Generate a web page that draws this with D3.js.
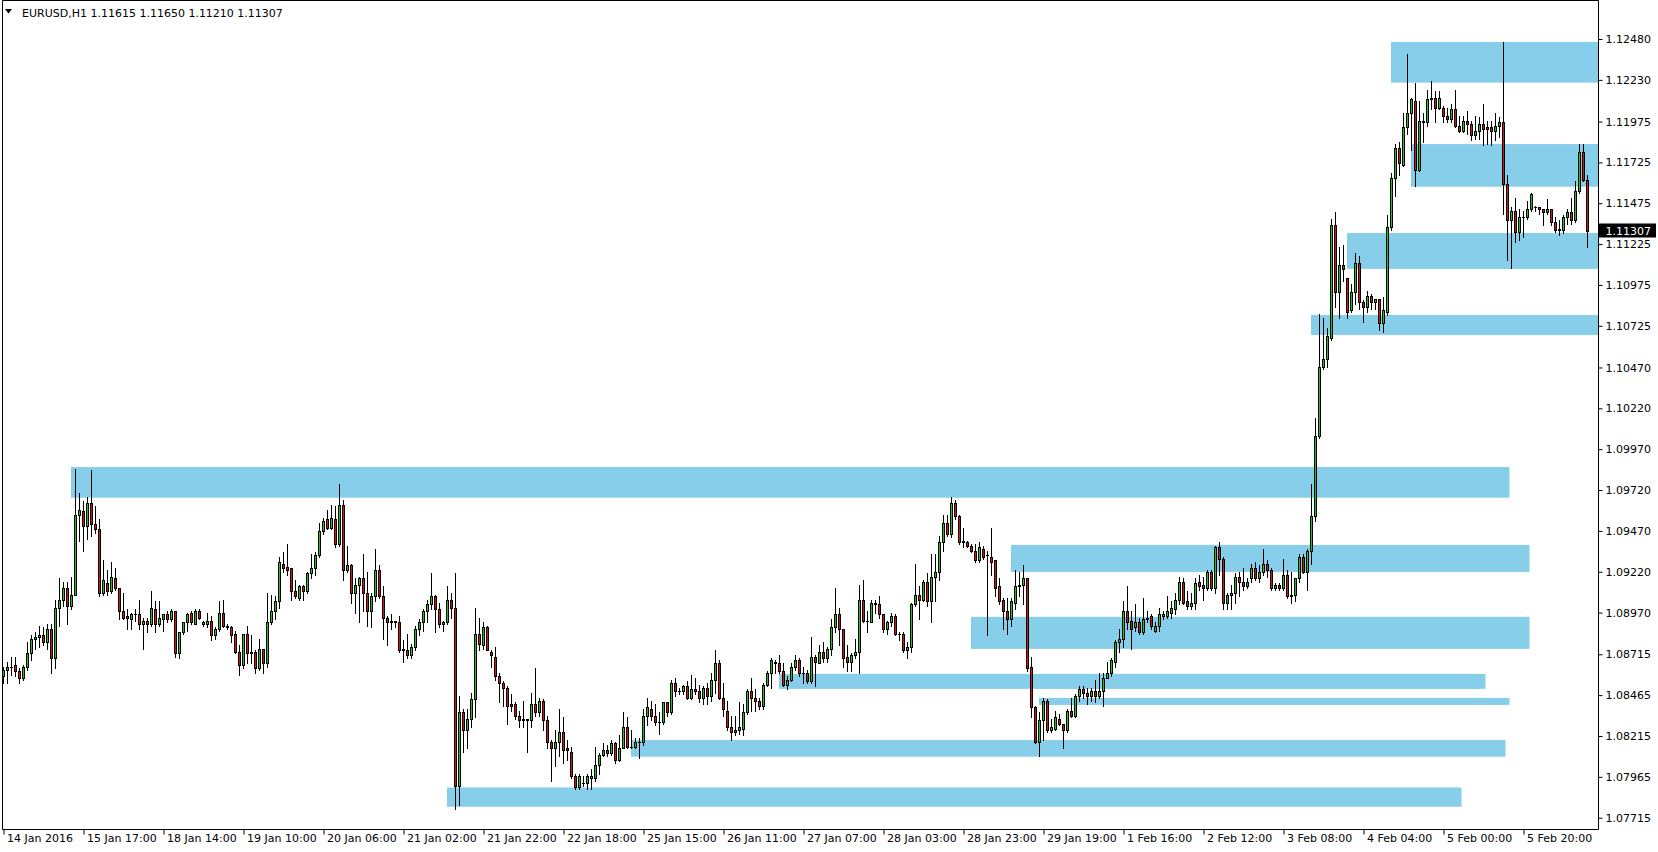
<!DOCTYPE html>
<html><head><meta charset="utf-8">
<script src="https://cdn.jsdelivr.net/npm/d3@7"></script>
<style>
body{margin:0;background:#fff;}
svg{display:block;}
text{font-family:"DejaVu Sans",sans-serif;font-size:11px;fill:#000;}
</style>
</head><body>
<svg id="c" width="1658" height="852"></svg>
<script>
const symbolLabel = "EURUSD,H1";
const lastOHLC = [1.11615, 1.11650, 1.11210, 1.11307];

const opens = [
1.0858,1.0862,1.0864,1.0865,1.0861,1.0857,1.0864,1.0872,1.0881,1.0882,
1.0883,1.0879,1.0887,1.0869,1.0900,1.0905,1.0912,1.0901,1.0908,1.0957,
1.0959,1.0950,1.0964,1.0951,1.0948,1.0909,1.0915,1.0910,1.0918,1.0912,
1.0898,1.0895,1.0893,1.0896,1.0896,1.0890,1.0892,1.0890,1.0899,1.0890,
1.0893,1.0896,1.0893,1.0898,1.0872,1.0885,1.0891,1.0897,1.0890,1.0898,
1.0890,1.0890,1.0892,1.0883,1.0887,1.0897,1.0889,1.0888,1.0884,1.0873,
1.0865,1.0884,1.0873,1.0873,1.0863,1.0875,1.0866,1.0891,1.0898,1.0904,
1.0927,1.0925,1.0924,1.0910,1.0906,1.0913,1.0910,1.0921,1.0924,1.0932,
1.0947,1.0954,1.0949,1.0954,1.0939,1.0963,1.0923,1.0926,1.0909,1.0914,
1.0918,1.0909,1.0898,1.0907,1.0923,1.0907,1.0894,1.0891,1.0892,1.0891,
1.0875,1.0874,1.0871,1.0876,1.0887,1.0891,1.0898,1.0902,1.0907,1.0899,
1.0890,1.0891,1.0905,1.0900,1.0791,1.0836,1.0825,1.0832,1.0844,1.0884,
1.0877,1.0888,1.0873,1.0870,1.0858,1.0854,1.0851,1.0841,1.0841,1.0834,
1.0831,1.0832,1.0831,1.0841,1.0836,1.0843,1.0831,1.0818,1.0814,1.0818,
1.0824,1.0814,1.0812,1.0797,1.0790,1.0793,1.0793,1.0796,1.0796,1.0804,
1.0810,1.0813,1.0811,1.0817,1.0807,1.0814,1.0827,1.0815,1.0815,1.0818,
1.0818,1.0834,1.0838,1.0834,1.0830,1.0830,1.0842,1.0836,1.0854,1.0849,
1.0849,1.0852,1.0845,1.0850,1.0849,1.0845,1.0851,1.0846,1.0856,1.0866,
1.0845,1.0837,1.0827,1.0824,1.0825,1.0826,1.0836,1.0849,1.0845,1.0843,
1.0840,1.0853,1.0860,1.0867,1.0866,1.0861,1.0853,1.0856,1.0864,1.0868,
1.0860,1.0860,1.0855,1.0870,1.0866,1.0873,1.0869,1.0875,1.0888,1.0896,
1.0887,1.0870,1.0867,1.0871,1.0873,1.0905,1.0892,1.0891,1.0902,1.0902,
1.0896,1.0887,1.0891,1.0895,1.0884,1.0884,1.0874,1.0876,1.0902,1.0908,
1.0905,1.0916,1.0904,1.0919,1.0922,1.0940,1.0952,1.0945,1.0964,1.0956,
1.0941,1.0940,1.0938,1.0935,1.0929,1.0936,1.0932,1.0931,1.0929,1.0913,
1.0905,1.0898,1.0893,1.0903,1.0913,1.0914,1.0918,1.0864,1.0839,1.0818,
1.0831,1.0843,1.0825,1.0826,1.0832,1.0829,1.0825,1.0837,1.0834,1.0846,
1.0850,1.0848,1.0846,1.0849,1.0846,1.0849,1.0857,1.0860,1.0867,1.0879,
1.0881,1.0898,1.0892,1.0888,1.0891,1.0885,1.0893,1.0895,1.0886,1.0889,
1.0895,1.0895,1.0897,1.0899,1.0905,1.0916,1.0904,1.0901,1.0903,1.0916,
1.0914,1.0912,1.0922,1.0912,1.0937,1.0930,1.0903,1.0908,1.0909,1.0919,
1.0916,1.0913,1.0918,1.0924,1.0918,1.0922,1.0927,1.0923,1.0912,1.0914,
1.0912,1.0920,1.0908,1.0908,1.0918,1.0931,1.0922,1.0935,1.0956,1.1005,
1.1047,1.1052,1.1065,1.1134,1.1093,1.1110,1.1102,1.1082,1.1093,1.1111,
1.1087,1.1084,1.1091,1.1087,1.1089,1.1074,1.1081,1.1133,1.1163,1.1181,
1.1171,1.1194,1.1203,1.1210,1.1168,1.1198,1.1197,1.1211,1.1212,1.1206,
1.1206,1.1201,1.1199,1.1205,1.1195,1.1192,1.1198,1.1196,1.1189,1.1192,
1.1196,1.1194,1.1194,1.1192,1.1195,1.1197,1.1159,1.1137,1.1143,1.1130,
1.1139,1.1139,1.1144,1.1145,1.1145,1.1144,1.1142,1.1144,1.1136,1.1132,
1.1131,1.1139,1.1142,1.1137,1.1155,1.1179,1.11615];

const highs = [
1.0864,1.0867,1.0870,1.0870,1.0863,1.0865,1.0879,1.0883,1.0885,1.0889,
1.0888,1.0890,1.0890,1.0905,1.0918,1.0916,1.0916,1.0919,1.0985,1.0970,
1.0965,1.0968,1.0984,1.0962,1.0954,1.0929,1.0923,1.0928,1.0924,1.0912,
1.0909,1.0899,1.0897,1.0899,1.0905,1.0894,1.0894,1.0910,1.0904,1.0904,
1.0896,1.0898,1.0899,1.0898,1.0885,1.0891,1.0897,1.0898,1.0899,1.0899,
1.0892,1.0897,1.0895,1.0888,1.0904,1.0905,1.0890,1.0889,1.0886,1.0877,
1.0884,1.0889,1.0883,1.0874,1.0881,1.0875,1.0909,1.0908,1.0907,1.0931,
1.0934,1.0939,1.0924,1.0917,1.0914,1.0914,1.0922,1.0933,1.0934,1.0952,
1.0955,1.0960,1.0963,1.0962,1.0976,1.0966,1.0938,1.0927,1.0918,1.0919,
1.0933,1.0922,1.0909,1.0936,1.0926,1.0913,1.0895,1.0896,1.0892,1.0895,
1.0880,1.0884,1.0878,1.0889,1.0893,1.0899,1.0905,1.0921,1.0908,1.0903,
1.0892,1.0913,1.0909,1.0921,1.0846,1.0838,1.0838,1.0848,1.0900,1.0894,
1.0891,1.0889,1.0874,1.0876,1.0860,1.0855,1.0852,1.0847,1.0842,1.0837,
1.0843,1.0832,1.0848,1.0863,1.0845,1.0844,1.0834,1.0819,1.0825,1.0838,
1.0833,1.0819,1.0815,1.0798,1.0798,1.0797,1.0798,1.0801,1.0815,1.0811,
1.0817,1.0816,1.0819,1.0818,1.0822,1.0836,1.0833,1.0825,1.0820,1.0820,
1.0838,1.0845,1.0843,1.0841,1.0836,1.0842,1.0842,1.0856,1.0857,1.0851,
1.0853,1.0855,1.0859,1.0857,1.0853,1.0852,1.0854,1.0860,1.0874,1.0868,
1.0854,1.0843,1.0834,1.0834,1.0842,1.0841,1.0850,1.0857,1.0850,1.0845,
1.0854,1.0861,1.0869,1.0868,1.0871,1.0866,1.0858,1.0866,1.0871,1.0869,
1.0864,1.0862,1.0882,1.0871,1.0877,1.0879,1.0876,1.0893,1.0912,1.0900,
1.0887,1.0877,1.0872,1.0881,1.0914,1.0917,1.0898,1.0905,1.0905,1.0907,
1.0896,1.0892,1.0897,1.0896,1.0885,1.0885,1.0879,1.0903,1.0927,1.0913,
1.0917,1.0921,1.0933,1.0933,1.0944,1.0957,1.0957,1.0968,1.0966,1.0957,
1.0949,1.0941,1.0939,1.0939,1.0940,1.0938,1.0935,1.0949,1.0929,1.0918,
1.0906,1.0906,1.0906,1.0923,1.0922,1.0926,1.0918,1.0870,1.0840,1.0836,
1.0845,1.0844,1.0832,1.0837,1.0835,1.0829,1.0838,1.0845,1.0847,1.0852,
1.0852,1.0851,1.0851,1.0856,1.0860,1.0860,1.0867,1.0869,1.0880,1.0887,
1.0904,1.0913,1.0898,1.0902,1.0894,1.0906,1.0898,1.0896,1.0891,1.0900,
1.0898,1.0907,1.0904,1.0909,1.0919,1.0918,1.0910,1.0909,1.0918,1.0920,
1.0919,1.0923,1.0923,1.0938,1.0940,1.0931,1.0909,1.0914,1.0921,1.0922,
1.0924,1.0918,1.0927,1.0928,1.0926,1.0936,1.0929,1.0924,1.0915,1.0915,
1.0930,1.0923,1.0922,1.0918,1.0933,1.0933,1.0936,1.0976,1.1016,1.1080,
1.1077,1.1071,1.1138,1.1142,1.1121,1.1122,1.1102,1.1098,1.1117,1.1115,
1.1088,1.1094,1.1092,1.1089,1.1089,1.1090,1.1140,1.1166,1.1184,1.1185,
1.1203,1.1239,1.1212,1.1221,1.1210,1.1203,1.1217,1.1222,1.1216,1.1216,
1.1207,1.1206,1.1208,1.1217,1.1201,1.1201,1.1204,1.1198,1.1201,1.1200,
1.1208,1.1198,1.1198,1.1203,1.1200,1.1246,1.1165,1.1145,1.1151,1.1144,
1.1143,1.1149,1.1154,1.1146,1.1145,1.1144,1.1150,1.1144,1.1139,1.1137,
1.1140,1.1144,1.1151,1.1161,1.1184,1.1184,1.11650];

const lows = [
1.0854,1.0854,1.0859,1.0858,1.0854,1.0856,1.0862,1.0868,1.0875,1.0876,
1.0877,1.0875,1.0860,1.0863,1.0889,1.0901,1.0890,1.0899,1.0908,1.0941,
1.0935,1.0942,1.0944,1.0946,1.0907,1.0908,1.0908,1.0909,1.0911,1.0893,
1.0893,1.0887,1.0887,1.0892,1.0887,1.0875,1.0885,1.0889,1.0885,1.0889,
1.0886,1.0891,1.0892,1.0870,1.0869,1.0884,1.0886,1.0890,1.0890,1.0893,
1.0889,1.0888,1.0880,1.0881,1.0886,1.0888,1.0887,1.0879,1.0872,1.0859,
1.0863,1.0866,1.0866,1.0860,1.0862,1.0860,1.0864,1.0890,1.0893,1.0900,
1.0922,1.0920,1.0905,1.0906,1.0905,1.0905,1.0909,1.0918,1.0920,1.0931,
1.0945,1.0948,1.0948,1.0937,1.0938,1.0917,1.0922,1.0903,1.0897,1.0891,
1.0898,1.0889,1.0888,1.0904,1.0906,1.0881,1.0877,1.0887,1.0888,1.0873,
1.0867,1.0869,1.0869,1.0874,1.0883,1.0886,1.0891,1.0899,1.0885,1.0888,
1.0886,1.0890,1.0894,1.0777,1.0779,1.0812,1.0814,1.0827,1.0833,1.0874,
1.0875,1.0874,1.0864,1.0856,1.0842,1.0840,1.0829,1.0837,1.0832,1.0827,
1.0827,1.0812,1.0827,1.0834,1.0834,1.0825,1.0814,1.0794,1.0803,1.0809,
1.0805,1.0807,1.0796,1.0789,1.0789,1.0791,1.0789,1.0789,1.0794,1.0798,
1.0809,1.0809,1.0810,1.0805,1.0806,1.0814,1.0814,1.0814,1.0814,1.0808,
1.0816,1.0828,1.0831,1.0828,1.0823,1.0829,1.0834,1.0835,1.0846,1.0847,
1.0847,1.0844,1.0844,1.0847,1.0842,1.0841,1.0841,1.0843,1.0848,1.0844,
1.0834,1.0825,1.0819,1.0822,1.0823,1.0822,1.0835,1.0837,1.0837,1.0838,
1.0838,1.0852,1.0851,1.0860,1.0860,1.0852,1.0850,1.0855,1.0862,1.0858,
1.0854,1.0854,1.0854,1.0852,1.0866,1.0867,1.0867,1.0871,1.0885,1.0877,
1.0864,1.0861,1.0861,1.0869,1.0860,1.0891,1.0885,1.0891,1.0897,1.0894,
1.0885,1.0884,1.0889,1.0883,1.0880,1.0873,1.0869,1.0873,1.0901,1.0893,
1.0904,1.0901,1.0891,1.0904,1.0917,1.0935,1.0944,1.0943,1.0954,1.0939,
1.0937,1.0937,1.0934,1.0928,1.0928,1.0930,1.0883,1.0920,1.0907,1.0902,
1.0887,1.0884,1.0889,1.0899,1.0907,1.0902,1.0861,1.0833,1.0817,1.0809,
1.0819,1.0824,1.0824,1.0825,1.0828,1.0814,1.0824,1.0833,1.0833,1.0843,
1.0845,1.0841,1.0843,1.0842,1.0845,1.0840,1.0857,1.0858,1.0864,1.0873,
1.0876,1.0887,1.0875,1.0886,1.0884,1.0884,1.0891,1.0887,1.0885,1.0886,
1.0893,1.0894,1.0894,1.0896,1.0902,1.0902,1.0899,1.0899,1.0899,1.0911,
1.0905,1.0911,1.0911,1.0909,1.0920,1.0899,1.0899,1.0899,1.0903,1.0907,
1.0911,1.0912,1.0916,1.0917,1.0916,1.0920,1.0919,1.0911,1.0911,1.0911,
1.0911,1.0906,1.0903,1.0904,1.0916,1.0921,1.0911,1.0927,1.0953,1.1004,
1.1046,1.1047,1.1064,1.1084,1.1077,1.1100,1.1077,1.1081,1.1086,1.1083,
1.1075,1.1081,1.1083,1.1083,1.1070,1.1069,1.1079,1.1131,1.1152,1.1165,
1.1170,1.1190,1.1180,1.1158,1.1167,1.1185,1.1195,1.1205,1.1197,1.1205,
1.1197,1.1197,1.1197,1.1194,1.1191,1.1191,1.1190,1.1186,1.1187,1.1187,
1.1183,1.1184,1.1183,1.1186,1.1188,1.1141,1.1113,1.1108,1.1124,1.1125,
1.1127,1.1138,1.1143,1.1143,1.1141,1.1134,1.1141,1.1134,1.1130,1.1128,
1.1129,1.1135,1.1135,1.1136,1.1154,1.1161,1.11210];

const closes = [
1.0862,1.0864,1.0864,1.0861,1.0857,1.0864,1.0872,1.0881,1.0882,1.0883,
1.0879,1.0887,1.0869,1.0900,1.0905,1.0912,1.0901,1.0908,1.0957,1.0960,
1.0950,1.0964,1.0951,1.0948,1.0909,1.0917,1.0910,1.0919,1.0912,1.0898,
1.0894,1.0894,1.0896,1.0896,1.0890,1.0892,1.0890,1.0900,1.0890,1.0894,
1.0896,1.0893,1.0898,1.0872,1.0885,1.0891,1.0896,1.0891,1.0898,1.0894,
1.0891,1.0892,1.0883,1.0887,1.0897,1.0889,1.0888,1.0883,1.0873,1.0865,
1.0884,1.0872,1.0872,1.0863,1.0875,1.0866,1.0891,1.0898,1.0904,1.0928,
1.0924,1.0923,1.0910,1.0907,1.0913,1.0910,1.0921,1.0924,1.0932,1.0947,
1.0953,1.0949,1.0955,1.0939,1.0963,1.0923,1.0926,1.0909,1.0914,1.0918,
1.0909,1.0898,1.0907,1.0923,1.0907,1.0894,1.0891,1.0892,1.0891,1.0874,
1.0874,1.0871,1.0876,1.0887,1.0891,1.0898,1.0902,1.0907,1.0899,1.0890,
1.0891,1.0905,1.0900,1.0791,1.0836,1.0825,1.0832,1.0844,1.0884,1.0878,
1.0888,1.0874,1.0871,1.0858,1.0854,1.0851,1.0840,1.0840,1.0834,1.0831,
1.0832,1.0831,1.0841,1.0836,1.0843,1.0831,1.0818,1.0814,1.0818,1.0824,
1.0813,1.0813,1.0797,1.0790,1.0797,1.0793,1.0797,1.0797,1.0804,1.0810,
1.0813,1.0811,1.0817,1.0807,1.0814,1.0827,1.0815,1.0815,1.0818,1.0818,
1.0834,1.0839,1.0834,1.0830,1.0830,1.0842,1.0836,1.0854,1.0849,1.0849,
1.0852,1.0845,1.0850,1.0849,1.0845,1.0851,1.0846,1.0856,1.0866,1.0845,
1.0838,1.0827,1.0824,1.0825,1.0827,1.0836,1.0849,1.0845,1.0843,1.0840,
1.0853,1.0860,1.0868,1.0866,1.0861,1.0853,1.0856,1.0864,1.0868,1.0860,
1.0860,1.0855,1.0870,1.0867,1.0873,1.0869,1.0875,1.0888,1.0896,1.0887,
1.0869,1.0867,1.0871,1.0873,1.0905,1.0892,1.0892,1.0903,1.0903,1.0896,
1.0887,1.0891,1.0895,1.0884,1.0884,1.0874,1.0876,1.0902,1.0908,1.0905,
1.0916,1.0904,1.0919,1.0922,1.0940,1.0952,1.0945,1.0964,1.0956,1.0940,
1.0940,1.0938,1.0935,1.0929,1.0937,1.0931,1.0932,1.0928,1.0912,1.0904,
1.0898,1.0893,1.0904,1.0913,1.0914,1.0918,1.0863,1.0839,1.0818,1.0831,
1.0843,1.0825,1.0827,1.0833,1.0829,1.0825,1.0837,1.0834,1.0846,1.0850,
1.0848,1.0846,1.0849,1.0846,1.0849,1.0857,1.0860,1.0868,1.0879,1.0881,
1.0898,1.0891,1.0887,1.0891,1.0885,1.0893,1.0894,1.0889,1.0889,1.0896,
1.0896,1.0898,1.0900,1.0905,1.0916,1.0903,1.0901,1.0903,1.0915,1.0913,
1.0912,1.0922,1.0912,1.0937,1.0930,1.0903,1.0908,1.0909,1.0919,1.0916,
1.0913,1.0916,1.0924,1.0918,1.0922,1.0927,1.0923,1.0912,1.0914,1.0912,
1.0920,1.0907,1.0907,1.0918,1.0931,1.0922,1.0935,1.0956,1.1005,1.1047,
1.1052,1.1066,1.1134,1.1093,1.1110,1.1107,1.1081,1.1093,1.1111,1.1087,
1.1084,1.1091,1.1087,1.1089,1.1074,1.1082,1.1133,1.1163,1.1181,1.1172,
1.1194,1.1203,1.1211,1.1168,1.1198,1.1197,1.1211,1.1212,1.1206,1.1212,
1.1201,1.1199,1.1205,1.1195,1.1192,1.1198,1.1196,1.1189,1.1192,1.1196,
1.1193,1.1193,1.1192,1.1195,1.1197,1.1159,1.1137,1.1143,1.1130,1.1139,
1.1139,1.1144,1.1153,1.1145,1.1144,1.1142,1.1144,1.1136,1.1131,1.1131,
1.1139,1.1142,1.1137,1.1155,1.1179,1.1162,1.11307];

const xTickBars = [0,20,40,60,80,100,120,140,160,180,200,220,240,260,280,300,320,340,360,380];
const xTickLabels = ["14 Jan 2016","15 Jan 17:00","18 Jan 14:00","19 Jan 10:00","20 Jan 06:00",
  "21 Jan 02:00","21 Jan 22:00","22 Jan 18:00","25 Jan 15:00","26 Jan 11:00","27 Jan 07:00",
  "28 Jan 03:00","28 Jan 23:00","29 Jan 19:00","1 Feb 16:00","2 Feb 12:00","3 Feb 08:00",
  "4 Feb 04:00","5 Feb 00:00","5 Feb 20:00"];
const yTickValues = [1.12480,1.12230,1.11975,1.11725,1.11475,1.11225,1.10975,1.10725,1.10470,1.10220,
  1.09970,1.09720,1.09470,1.09220,1.08970,1.08715,1.08465,1.08215,1.07965,1.07715];

// support / resistance zones (bar index start/end, price top/bottom)
const zoneStart = [347,352,336,327,17,252,242,194,259,157,111];
const zoneEnd   = [420,420,420,420,377,382,382,371,377,376,365];
const zoneTop   = [1.12462,1.11837,1.11293,1.10791,1.09861,1.09384,1.08944,1.08595,1.08448,1.08190,1.07900];
const zoneBottom= [1.12213,1.11576,1.11073,1.10669,1.09673,1.09219,1.08748,1.08503,1.08405,1.08088,1.07782];

const W = 1658, H = 852;
const plotL = 2.5, plotR = 1598.5, plotT = 0.5, plotB = 829.5;
const bullColor = "#20c420", bearColor = "#d41414", zoneColor = "#87ceeb";

const svg = d3.select("#c");
const x = d3.scaleLinear().domain([0, 396]).range([3.5, 3.5 + 4 * 396]);
const y = d3.scaleLinear().domain([1.07715, 1.12480]).range([817.7, 39]);

svg.append("rect").attr("width", W).attr("height", H).attr("fill", "#fff");
svg.append("defs").append("clipPath").attr("id", "plotclip")
  .append("rect").attr("x", 3).attr("y", 1).attr("width", plotR - 3.5).attr("height", plotB - 1.5);

const plot = svg.append("g").attr("clip-path", "url(#plotclip)");

// zones
plot.append("g").selectAll("rect").data(zoneStart.map((s, i) => i)).join("rect")
  .attr("x", i => x(zoneStart[i]) - 0.5)
  .attr("width", i => x(zoneEnd[i]) - 2 - (x(zoneStart[i]) - 0.5))
  .attr("y", i => y(zoneTop[i]))
  .attr("height", i => y(zoneBottom[i]) - y(zoneTop[i]))
  .attr("fill", zoneColor);

// candles
const bars = d3.range(opens.length).map(i => ({i, o: opens[i], h: highs[i], l: lows[i], c: closes[i]}));
const cg = plot.append("g");
const snap = v => Math.round(v) + 0.5;
bars.forEach(b => {
  const cx = x(b.i);
  const yo = snap(y(b.o)), yc = snap(y(b.c));
  const top = Math.min(yo, yc), bot = Math.max(yo, yc);
  const yh = Math.min(snap(y(b.h)), top), yl = Math.max(snap(y(b.l)), bot);
  cg.append("line").attr("x1", cx).attr("x2", cx).attr("y1", yh - 0.5).attr("y2", yl + 0.5)
    .attr("stroke", "#000").attr("stroke-width", 1);
  if (bot - top < 1) {
    cg.append("line").attr("x1", cx - 1.5).attr("x2", cx + 1.5).attr("y1", top).attr("y2", top)
      .attr("stroke", "#000").attr("stroke-width", 1);
  } else {
    cg.append("rect").attr("x", cx - 1).attr("y", top).attr("width", 2).attr("height", bot - top)
      .attr("fill", b.c >= b.o ? bullColor : bearColor)
      .attr("stroke", "#000").attr("stroke-width", 1);
  }
});

// frame
svg.append("path")
  .attr("d", `M${plotL},${plotT}H${plotR}V${plotB}H${plotL}Z`)
  .attr("fill", "none").attr("stroke", "#000").attr("stroke-width", 1);

// y axis
const yAxis = d3.axisRight(y).tickValues(yTickValues).tickSize(4).tickFormat(d3.format(".5f"));
const yg = svg.append("g").attr("transform", `translate(${plotR},0)`).call(yAxis);
yg.select(".domain").remove();
yg.selectAll("text").attr("font-family", "DejaVu Sans").attr("font-size", 11).attr("x", 7).attr("fill", "#000");

// x axis
const xAxis = d3.axisBottom(x).tickValues(xTickBars).tickSize(5)
  .tickFormat((d, k) => xTickLabels[k]);
const xg = svg.append("g").attr("transform", `translate(0,${plotB})`).call(xAxis);
xg.select(".domain").remove();
xg.selectAll("text").attr("text-anchor", "start").attr("x", 3).attr("y", 5)
  .attr("font-family", "DejaVu Sans").attr("font-size", 11).attr("fill", "#000");

// header
svg.append("path").attr("d", "M5,9L12,9L8.5,13.5Z").attr("fill", "#000");
svg.append("text").attr("x", 22).attr("y", 17)
  .text(symbolLabel + "  " + lastOHLC.map(v => v.toFixed(5)).join(" "));

// current price tag
const lastClose = lastOHLC[3];
const py = y(lastClose);
svg.append("rect").attr("x", 1599).attr("y", Math.round(py) - 7.5).attr("width", 57).attr("height", 14).attr("fill", "#000");
svg.append("text").attr("x", 1605.5).attr("y", py).attr("dy", "0.35em").attr("fill", "#fff")
  .style("fill", "#fff").text(lastClose.toFixed(5));
</script>
</body></html>
